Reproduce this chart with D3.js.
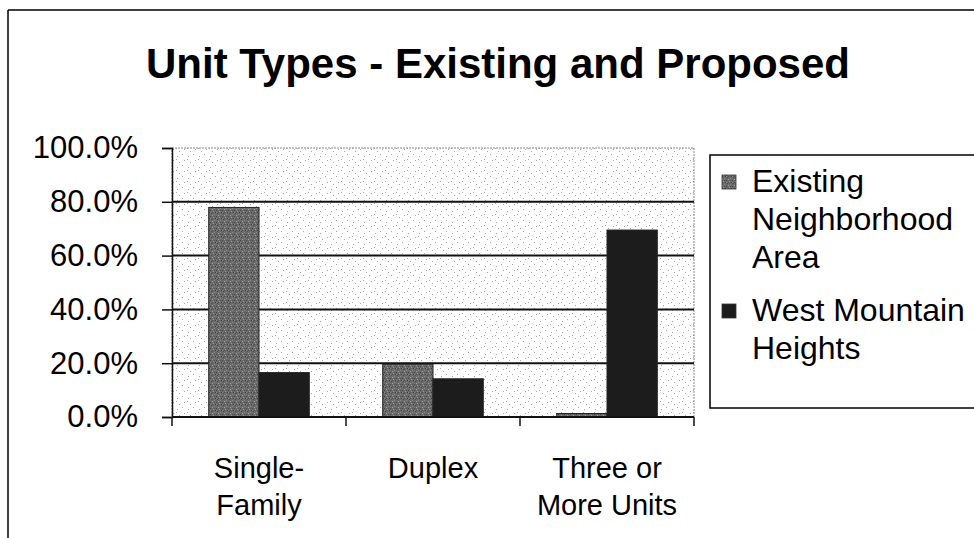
<!DOCTYPE html>
<html><head><meta charset="utf-8">
<script src="https://cdn.jsdelivr.net/npm/d3@7"></script>
<style>
html,body{margin:0;padding:0;background:#fff;}
svg{display:block;font-family:"Liberation Sans",Arial,sans-serif;}
</style></head>
<body>
<svg id="chart" width="974" height="538"></svg>
<script>
const title = "Unit Types - Existing and Proposed";
const categories = ["Single-Family", "Duplex", "Three or More Units"];
const categoryLines = [["Single-", "Family"], ["Duplex"], ["Three or", "More Units"]];
const seriesNames = ["Existing Neighborhood Area", "West Mountain Heights"];
const legendLines = [["Existing", "Neighborhood", "Area"], ["West Mountain", "Heights"]];
const existing = [0.779, 0.196, 0.013];
const westMountain = [0.165, 0.142, 0.695];
const yTicks = [0, 0.2, 0.4, 0.6, 0.8, 1.0];

const svg = d3.select("#chart");
const defs = svg.append("defs");

// stipple background pattern
const bg = defs.append("pattern").attr("id","stipple").attr("patternUnits","userSpaceOnUse")
  .attr("width",11).attr("height",11);
bg.append("rect").attr("width",11).attr("height",11).attr("fill","#fff");
[[1,2],[6,0],[8,6],[3,8],[0,5]].forEach(p=>bg.append("rect").attr("x",p[0]).attr("y",p[1]).attr("width",1).attr("height",1).attr("fill","#a8a8a8"));

// mottled pattern for existing bars
const mp = defs.append("pattern").attr("id","mottle").attr("patternUnits","userSpaceOnUse")
  .attr("width",6).attr("height",6);
mp.append("rect").attr("width",6).attr("height",6).attr("fill","#6a6a6a");
[[0,0,"#404040"],[3,1,"#999"],[1,3,"#4a4a4a"],[4,4,"#8a8a8a"],[5,2,"#3c3c3c"],[2,5,"#a0a0a0"],[0,2,"#888"],[4,0,"#555"],[2,2,"#505050"]]
  .forEach(p=>mp.append("rect").attr("x",p[0]).attr("y",p[1]).attr("width",1).attr("height",1).attr("fill",p[2]));

// outer frame
svg.append("line").attr("x1",8).attr("x2",974).attr("y1",10).attr("y2",10).attr("stroke","#000").attr("stroke-width",1.5);
svg.append("line").attr("x1",8).attr("x2",8).attr("y1",10).attr("y2",538).attr("stroke","#000").attr("stroke-width",1.5);

svg.append("text").attr("x",498).attr("y",78).attr("text-anchor","middle")
  .attr("font-size",42).attr("font-weight","bold").text(title);

const plot = {left:172, right:694, top:148, bottom:417};
const x0 = d3.scaleBand().domain(categories).range([plot.left, plot.right]).padding(0);
const x1 = d3.scaleBand().domain(seriesNames).range([0, x0.bandwidth()]).paddingInner(0).paddingOuter(0.73);
const y = d3.scaleLinear().domain([0,1]).range([plot.bottom, plot.top]);

svg.append("rect").attr("x",plot.left).attr("y",plot.top).attr("width",plot.right-plot.left)
  .attr("height",plot.bottom-plot.top).attr("fill","url(#stipple)")
  .attr("stroke","#888").attr("stroke-width",1).attr("stroke-dasharray","2,1");

// gridlines
svg.append("g").selectAll("line").data(yTicks.filter(d=>d>0 && d<1)).join("line")
  .attr("x1",plot.left).attr("x2",plot.right).attr("y1",d=>y(d)).attr("y2",d=>y(d))
  .attr("stroke","#111").attr("stroke-width",2);

// bars
const data = categories.map((c,i)=>({c, vals:[existing[i], westMountain[i]]}));
const g = svg.append("g");
data.forEach(d=>{
  d.vals.forEach((v,j)=>{
    g.append("rect").attr("x",x0(d.c)+x1(seriesNames[j])).attr("y",y(v))
      .attr("width",x1.bandwidth()).attr("height",y(0)-y(v))
      .attr("fill", j===0 ? "url(#mottle)" : "#1c1c1c")
      .attr("stroke","#222").attr("stroke-width",1);
  });
});

// y axis
const yAxis = d3.axisLeft(y).tickValues(yTicks).tickFormat(d3.format(".1%")).tickSize(10).tickPadding(24);
const ya = svg.append("g").attr("transform",`translate(${plot.left},0)`).call(yAxis);
ya.select(".domain").attr("stroke","#111").attr("stroke-width",1.5);
ya.selectAll(".tick line").attr("stroke","#111").attr("stroke-width",1.5);
ya.selectAll(".tick text").attr("font-size",31).attr("fill","#000").attr("font-family","Liberation Sans, Arial, sans-serif");

// x axis baseline + ticks at boundaries
svg.append("line").attr("x1",plot.left).attr("x2",plot.right).attr("y1",y(0)).attr("y2",y(0)).attr("stroke","#111").attr("stroke-width",2);
const bounds = categories.map(c=>x0(c)).concat([plot.right]);
svg.append("g").selectAll("line").data(bounds).join("line")
  .attr("x1",d=>d).attr("x2",d=>d).attr("y1",y(0)).attr("y2",y(0)+9)
  .attr("stroke","#111").attr("stroke-width",1.5);

// x labels
const xl = svg.append("g");
categories.forEach((c,i)=>{
  const t = xl.append("text").attr("x",x0(c)+x0.bandwidth()/2).attr("y",478)
    .attr("text-anchor","middle").attr("font-size",29);
  categoryLines[i].forEach((ln,k)=>t.append("tspan").attr("x",x0(c)+x0.bandwidth()/2).attr("dy",k===0?0:37).text(ln));
});

// legend
const lg = svg.append("g");
lg.append("rect").attr("x",710).attr("y",155).attr("width",280).attr("height",253)
  .attr("fill","#fff").attr("stroke","#000").attr("stroke-width",1.5);
const legendY = [192, 321];
seriesNames.forEach((s,j)=>{
  lg.append("rect").attr("x",722).attr("y",legendY[j]-17).attr("width",14).attr("height",14)
    .attr("fill", j===0 ? "url(#mottle)" : "#1c1c1c").attr("stroke","#333").attr("stroke-width",0.8);
  const t = lg.append("text").attr("x",752).attr("y",legendY[j]).attr("font-size",32);
  legendLines[j].forEach((ln,k)=>t.append("tspan").attr("x",752).attr("dy",k===0?0:38).text(ln));
});
</script>
</body></html>
